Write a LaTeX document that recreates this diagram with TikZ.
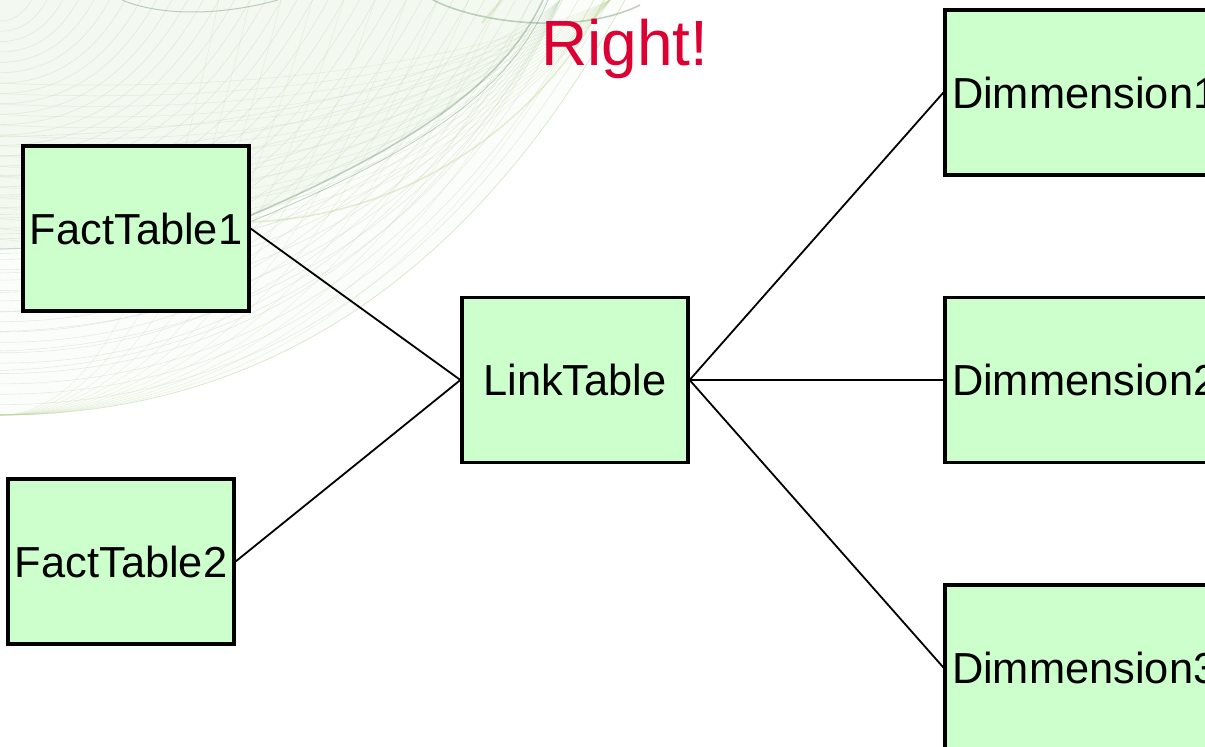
\documentclass[tikz,border=0pt]{standalone}
\usepackage{fontspec}
\setmainfont{Liberation Sans}
\definecolor{boxfill}{RGB}{204,255,204}
\definecolor{rightred}{RGB}{221,0,51}
\definecolor{swirlA}{RGB}{205,222,200}
\definecolor{swirlB}{RGB}{190,215,150}
\definecolor{swirlC}{RGB}{120,155,125}
\definecolor{swirlH}{RGB}{238,245,235}
\newcommand{\lowered}[1]{\raisebox{-2.4pt}{#1}}
\tikzset{
  tablebox/.style={draw=black,fill=boxfill,line width=3.2pt,minimum width=226pt,minimum height=165pt,inner sep=0pt,font=\fontsize{43.4}{43.4}\selectfont},
  dimbox/.style={tablebox,minimum width=300pt,text width=286pt,align=left},
  link/.style={draw=black,line width=1.8pt},
  fineA/.style={draw=swirlA,line width=0.6pt,opacity=0.5},
  fineB/.style={draw=swirlB,line width=0.5pt,opacity=0.3},
  accent/.style={draw=swirlC,line width=1.6pt,opacity=0.45},
  accentB/.style={draw=swirlB,line width=1.6pt,opacity=0.4}
}
\begin{document}
\begin{tikzpicture}[x=1pt,y=-1pt]
\path[use as bounding box,clip] (0,0) rectangle (1205,747);
\fill[white] (0,0) rectangle (1205,747);
% background swirl
\fill[swirlH,opacity=0.2] (0,0) -- (625,0) .. controls (530,170) and (350,415) .. (0,415) -- cycle;
\fill[swirlH,opacity=0.6] (0,0) -- (543,0) .. controls (510,70) and (440,135) .. (240,220) -- (0,250) -- cycle;
\foreach \s in {1.00,0.975,...,0.05}{
  \draw[fineA,scale=\s] (625,0) .. controls (530,170) and (350,415) .. (0,415);
}
\foreach \s in {0.95,0.90,...,0.30}{
  \draw[fineB,xscale=\s] (625,0) .. controls (530,170) and (350,415) .. (0,415);
  \draw[fineA,yscale=\s] (560,0) .. controls (500,150) and (320,380) .. (0,390);
}
\foreach \s in {0.92,0.88,...,0.3}{
  \draw[fineB,yscale=\s] (610,0) .. controls (520,130) and (330,300) .. (0,260);
}
\draw[accentB,line width=0.7pt,opacity=.3] (625,0) .. controls (530,170) and (350,415) .. (0,415);
\draw[accent] (543,0) .. controls (510,70) and (440,135) .. (240,220);
\draw[accent,line width=0.8pt] (548,0) .. controls (515,80) and (440,145) .. (240,226);
\draw[accentB] (604,0) .. controls (560,90) and (440,215) .. (250,222);
\draw[accent] (433,0) .. controls (480,24) and (580,35) .. (640,5);
\draw[accent,line width=1pt] (122,0) .. controls (160,16) and (220,16) .. (278,0);
\draw[accentB,line width=2.5pt,opacity=.35] (502,0) -- (482,23);
\draw[accent,line width=1pt,opacity=.3] (0,249) -- (30,248);
% boxes
\node[tablebox] (fact1) at (136,228.5) {\lowered{FactTable1}};
\node[tablebox] (fact2) at (121,561.5) {\lowered{FactTable2}};
\node[tablebox] (linkt) at (575,380) {\lowered{LinkTable}};
\node[dimbox] (dim1) at (1095,92.5) {\lowered{Dimmension1}};
\node[dimbox] (dim2) at (1095,380) {\lowered{Dimmension2}};
\node[dimbox] (dim3) at (1095,667.5) {\lowered{Dimmension3}};
\node[text=rightred,font=\fontsize{64}{64}\selectfont,inner sep=0pt] (title) at (625,49) {Right!};
% connectors
\draw[link] (fact1.east) -- (linkt.west);
\draw[link] (fact2.east) -- (linkt.west);
\draw[link] (linkt.east) -- (dim1.west);
\draw[link] (linkt.east) -- (dim2.west);
\draw[link] (linkt.east) -- (dim3.west);
\end{tikzpicture}
\end{document}
